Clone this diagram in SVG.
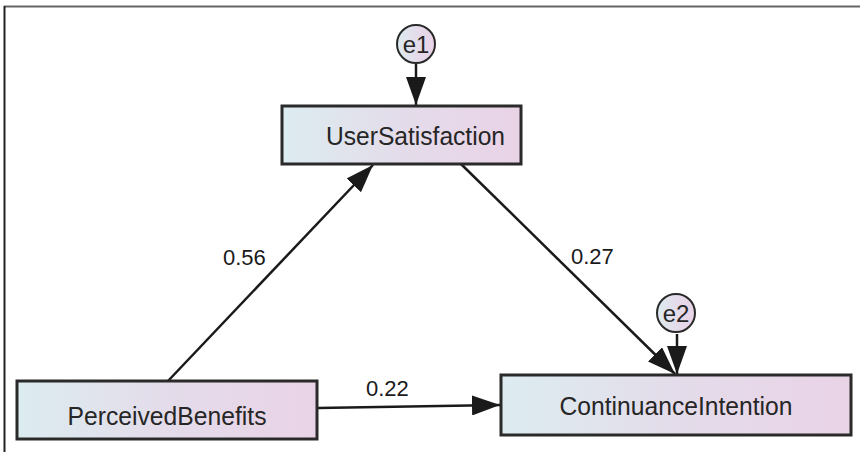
<svg xmlns="http://www.w3.org/2000/svg" width="860" height="452" viewBox="0 0 860 452">
<defs>
<linearGradient id="g" x1="0" y1="0" x2="1" y2="0">
<stop offset="0" stop-color="#dcecf0"/>
<stop offset="0.5" stop-color="#e4dcea"/>
<stop offset="1" stop-color="#e9d3e6"/>
</linearGradient>
<marker id="arr" markerUnits="userSpaceOnUse" markerWidth="28" markerHeight="20" refX="28" refY="10" orient="auto">
<path d="M0,0 L28,10 L0,20 Z" fill="#1a1a1a"/>
</marker>
<style>
.box{fill:url(#g);stroke:#2a2a2a;stroke-width:3}
.err{fill:url(#g);stroke:#2a2a2a;stroke-width:2}
.lbl{font-family:"Liberation Sans",Arial,sans-serif;font-size:26px;fill:#262626}
.elbl{font-family:"Liberation Sans",Arial,sans-serif;font-size:24px;fill:#262626}
.num{font-family:"Liberation Sans",Arial,sans-serif;font-size:22px;fill:#1a1a1a}
.edge{stroke:#1a1a1a;stroke-width:2.5;fill:none;marker-end:url(#arr)}
</style>
</defs>
<rect width="860" height="452" fill="#ffffff"/>
<line x1="4" y1="6.5" x2="860" y2="6.5" stroke="#666" stroke-width="2"/>
<line x1="4.5" y1="6" x2="4.5" y2="452" stroke="#222" stroke-width="2"/>
<g id="connectors">
<line class="edge" x1="168" y1="381" x2="373" y2="165"/>
<line class="edge" x1="461" y1="164" x2="675" y2="374"/>
<line class="edge" x1="318" y1="408" x2="500" y2="405"/>
<line class="edge" x1="416" y1="64" x2="416" y2="105"/>
<line class="edge" x1="677" y1="334" x2="677" y2="374"/>
<text class="num" x="223" y="265">0.56</text>
<text class="num" x="571" y="264">0.27</text>
<text class="num" x="366" y="396">0.22</text>
</g>
<g id="UserSatisfaction">
<rect class="box" x="282" y="106" width="239" height="58"/>
<text class="lbl" x="326" y="145" textLength="179" lengthAdjust="spacingAndGlyphs">UserSatisfaction</text>
</g>
<g id="PerceivedBenefits">
<rect class="box" x="17" y="381" width="300" height="58"/>
<text class="lbl" x="167" y="425" text-anchor="middle" textLength="199" lengthAdjust="spacingAndGlyphs">PerceivedBenefits</text>
</g>
<g id="ContinuanceIntention">
<rect class="box" x="501" y="375" width="350" height="60"/>
<text class="lbl" x="676" y="415" text-anchor="middle" textLength="233" lengthAdjust="spacingAndGlyphs">ContinuanceIntention</text>
</g>
<g id="e1">
<circle class="err" cx="416" cy="44" r="19"/>
<text class="elbl" x="416" y="53" text-anchor="middle">e1</text>
</g>
<g id="e2">
<circle class="err" cx="676" cy="313" r="19"/>
<text class="elbl" x="676" y="322" text-anchor="middle">e2</text>
</g>
</svg>
